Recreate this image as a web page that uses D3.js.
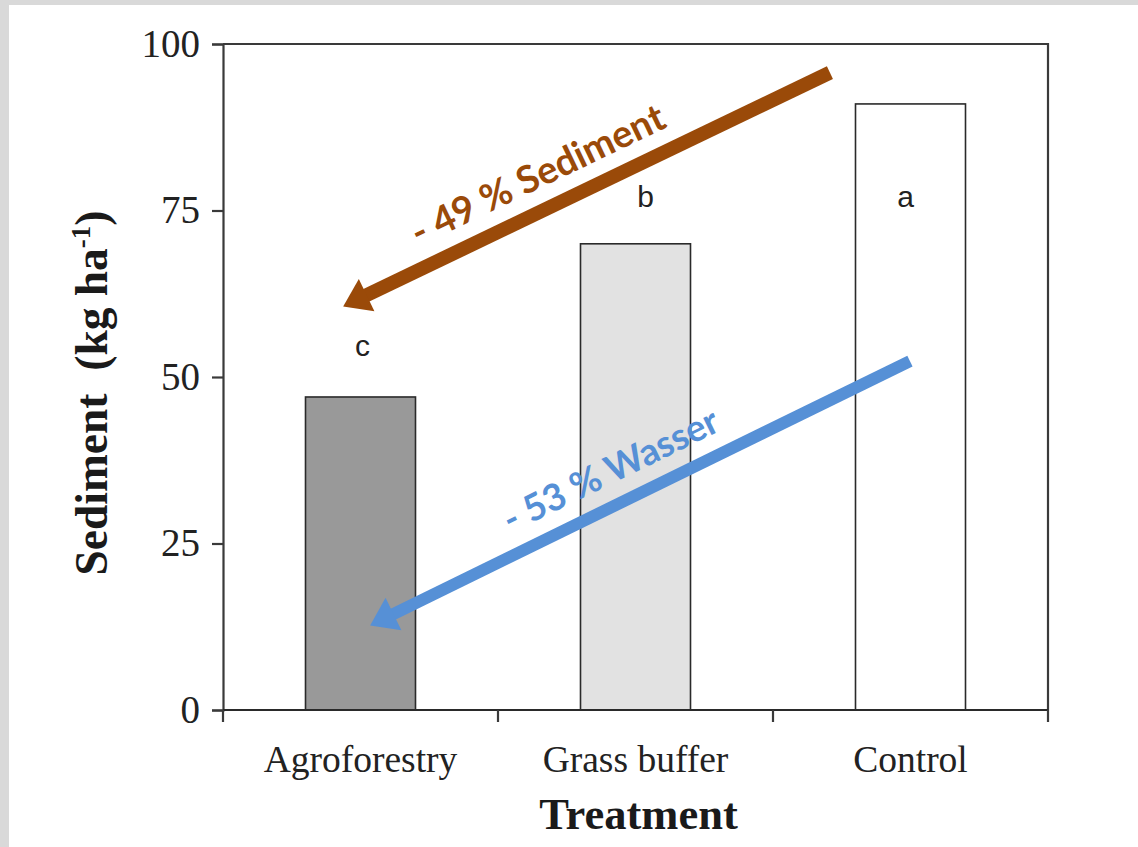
<!DOCTYPE html>
<html lang="en">
<head>
    <meta charset="UTF-8">
    <title>sediment</title>
    <script src="https://d3js.org/d3.v7.min.js"></script>
    <style>
        html, body {
            padding: 0;
            margin: 0;
            background-color: #d9d9d9;
        }
        svg {
            display: block;
        }
    </style>
</head>
<body>
<script>
    // data
    const treatments = ["Agroforestry", "Grass buffer", "Control"];
    const sediment = [47, 70, 91];
    const barFills = ["#999999", "#e2e2e2", "#ffffff"];
    const letters = ["c", "b", "a"];
    const letterAt = [53.2, 75.6, 75.6];   // value where the letter sits
    const yTicks = [0, 25, 50, 75, 100];

    // arrows: x in band units (0..3), y in kg/ha
    const arrows = [
        {from: [2.207, 95.7], to: [0.437, 60.6], color: "#9a4a09", width: 14, label: "- 49 % Sediment", at: [1.165, 78.6], size: 38},
        {from: [2.498, 52.4], to: [0.535, 12.7], color: "#5690d6", width: 12, label: "- 53 % Wasser", at: [1.43, 34.3], size: 37}
    ];

    const W = 1138, H = 847;
    const margin = {left: 223, right: 90, top: 44, bottom: 137};
    const x0 = margin.left, x1 = W - margin.right;
    const y0 = H - margin.bottom, y1 = margin.top;

    const svg = d3.select("body").append("svg")
        .attr("width", W)
        .attr("height", H);

    // white page with the gray edge at left/top
    svg.append("rect")
        .attr("x", 9).attr("y", 5)
        .attr("width", W - 9).attr("height", H - 5)
        .attr("fill", "#ffffff");

    const x = d3.scaleBand().domain(treatments).range([x0, x1]).padding(0);
    const xPos = d3.scaleLinear().domain([0, 3]).range([x0, x1]);
    const y = d3.scaleLinear().domain([0, 100]).range([y0, y1]);

    const barW = x.bandwidth() * 0.4;

    // bars
    svg.append("g")
        .selectAll("rect")
        .data(treatments)
        .join("rect")
        .attr("x", d => x(d) + (x.bandwidth() - barW) / 2)
        .attr("y", (d, i) => y(sediment[i]))
        .attr("width", barW)
        .attr("height", (d, i) => y(0) - y(sediment[i]))
        .attr("fill", (d, i) => barFills[i])
        .attr("stroke", "#2a2a2a")
        .attr("stroke-width", 1.6);

    // frame top + right
    svg.append("path")
        .attr("d", `M${x0},${y1}H${x1}V${y0}`)
        .attr("fill", "none")
        .attr("stroke", "#3a3a3a")
        .attr("stroke-width", 2.2);

    // y axis
    const yAxis = svg.append("g")
        .attr("transform", `translate(${x0},0)`)
        .call(d3.axisLeft(y).tickValues(yTicks).tickSize(11).tickPadding(12));
    yAxis.selectAll("path, line").attr("stroke", "#3a3a3a").attr("stroke-width", 2.2);
    yAxis.selectAll("text")
        .attr("font-family", "'Liberation Serif', 'Times New Roman', serif")
        .attr("font-size", 39)
        .attr("fill", "#222");

    // x axis, ticks on band edges
    const xAxis = svg.append("g")
        .attr("transform", `translate(0,${y0})`);
    xAxis.append("path")
        .attr("d", `M${x0},0H${x1}`)
        .attr("stroke", "#2a2a2a")
        .attr("stroke-width", 2.2);
    xAxis.selectAll("line")
        .data(d3.range(0, 4))
        .join("line")
        .attr("x1", d => xPos(d)).attr("x2", d => xPos(d))
        .attr("y1", 0).attr("y2", 12)
        .attr("stroke", "#3a3a3a")
        .attr("stroke-width", 2.2);
    xAxis.selectAll("text")
        .data(treatments)
        .join("text")
        .attr("x", d => x(d) + x.bandwidth() / 2)
        .attr("y", 62)
        .attr("text-anchor", "middle")
        .attr("font-family", "'Liberation Serif', 'Times New Roman', serif")
        .attr("font-size", 37.5)
        .attr("fill", "#222")
        .text(d => d);

    // axis titles
    svg.append("text")
        .attr("x", (x0 + x1) / 2 + 3)
        .attr("y", 829)
        .attr("text-anchor", "middle")
        .attr("font-family", "'Liberation Serif', 'Times New Roman', serif")
        .attr("font-weight", "bold")
        .attr("font-size", 44.5)
        .attr("fill", "#1a1a1a")
        .text("Treatment");

    const yTitle = svg.append("text")
        .attr("transform", `translate(107,${(y0 + y1) / 2 + 16}) rotate(-90)`)
        .attr("text-anchor", "middle")
        .attr("font-family", "'Liberation Serif', 'Times New Roman', serif")
        .attr("font-weight", "bold")
        .attr("font-size", 45.5)
        .attr("fill", "#1a1a1a");
    yTitle.append("tspan").text("Sediment\u00a0\u00a0(kg ha");
    yTitle.append("tspan").attr("font-size", 27).attr("dy", -17).text("-1");
    yTitle.append("tspan").attr("dy", 17).text(")");

    // significance letters
    svg.append("g")
        .selectAll("text")
        .data(treatments)
        .join("text")
        .attr("x", (d, i) => x(d) + x.bandwidth() / 2 + (i === 0 ? 2 : i === 1 ? 10 : -5))
        .attr("y", (d, i) => y(letterAt[i]))
        .attr("text-anchor", "middle")
        .attr("font-family", "'Liberation Sans', Arial, sans-serif")
        .attr("font-size", 30)
        .attr("fill", "#222")
        .text((d, i) => letters[i]);

    // arrows
    const ag = svg.append("g");
    arrows.forEach(a => {
        const sx = xPos(a.from[0]), sy = y(a.from[1]);
        const tx = xPos(a.to[0]), ty = y(a.to[1]);
        const ang = Math.atan2(ty - sy, tx - sx);
        const headLen = 26, headHalf = 18;
        const bx = tx - headLen * Math.cos(ang), by = ty - headLen * Math.sin(ang);
        const nx = -Math.sin(ang), ny = Math.cos(ang);
        ag.append("line")
            .attr("x1", sx).attr("y1", sy)
            .attr("x2", bx + 2 * Math.cos(ang)).attr("y2", by + 2 * Math.sin(ang))
            .attr("stroke", a.color)
            .attr("stroke-width", a.width);
        ag.append("path")
            .attr("d", `M${tx},${ty}L${bx + nx * headHalf},${by + ny * headHalf}L${bx - nx * headHalf},${by - ny * headHalf}Z`)
            .attr("fill", a.color);
        const deg = ang * 180 / Math.PI + 180;
        ag.append("text")
            .attr("transform", `translate(${xPos(a.at[0])},${y(a.at[1])}) rotate(${deg})`)
            .attr("text-anchor", "middle")
            .attr("font-family", "Lato, 'Open Sans', sans-serif")
            .attr("font-weight", "bold")
            .attr("font-size", a.size)
            .attr("fill", a.color)
            .text(a.label);
    });
</script>
</body>
</html>
